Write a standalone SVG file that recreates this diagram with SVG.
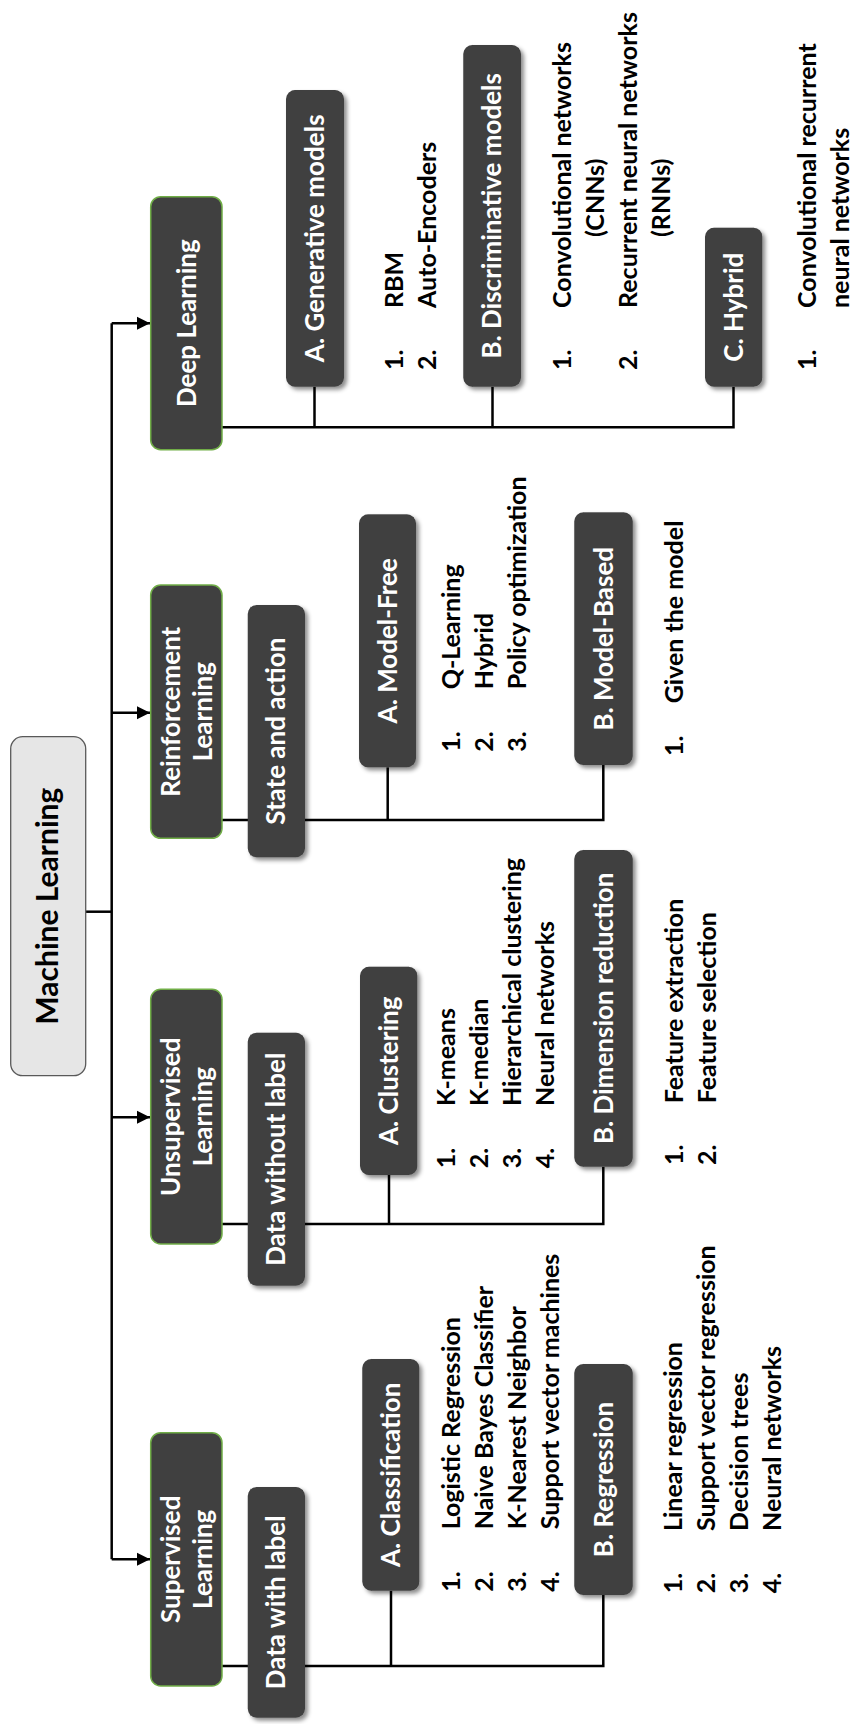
<svg xmlns="http://www.w3.org/2000/svg" width="851" height="1724" viewBox="0 0 851 1724">
<style>
.node{fill:#404040}
.top{fill:#404040;stroke:#70ad47;stroke-width:1.5}
.sh{filter:url(#shadow)}
.nt{font-family:Lato,"Liberation Sans",sans-serif;font-weight:bold;font-size:26px;fill:#ffffff;text-anchor:middle}
.lt{font-family:Lato,"Liberation Sans",sans-serif;font-weight:bold;font-size:25px;fill:#000000}
.ttl{font-family:Lato,"Liberation Sans",sans-serif;font-weight:bold;font-size:30px;fill:#000000;text-anchor:middle}
.ln{fill:none;stroke:#000000;stroke-width:2.5}
</style>
<defs>
<filter id="shadow" x="-20%" y="-30%" width="140%" height="160%">
<feDropShadow dx="-3" dy="3" stdDeviation="2" flood-color="#000000" flood-opacity="0.45"/>
</filter>
<marker id="arr" viewBox="0 0 14 14" refX="13" refY="7" markerWidth="14" markerHeight="14" markerUnits="userSpaceOnUse" orient="auto">
<path d="M0,0.5 L13,7 L0,13.5 Z" fill="#000000"/>
</marker>
</defs>
<rect width="851" height="1724" fill="#ffffff"/>
<g transform="translate(0,1724) rotate(-90)">
<g id="connectors">
<path class="ln" d="M812.3,85.7 V111.7"/>
<path class="ln" d="M164.7,111.7 H1400.7"/>
<path class="ln" d="M164.7,111.7 V150" marker-end="url(#arr)"/>
<path class="ln" d="M606.7,111.7 V150" marker-end="url(#arr)"/>
<path class="ln" d="M1011.3,111.7 V150" marker-end="url(#arr)"/>
<path class="ln" d="M1400.7,111.7 V150" marker-end="url(#arr)"/>
<path class="ln" d="M58,222 V603.3 H129 M58,391 H133.3"/>
<path class="ln" d="M500,222 V603.3 H557.3 M500,389 H549"/>
<path class="ln" d="M904,222 V603.3 H959 M904,387.7 H956.7"/>
<path class="ln" d="M1296.7,222 V733.5 H1337.3 M1296.7,314.5 H1337.3 M1296.7,492.5 H1337.3"/>
</g>
<g id="machine-learning">
<rect x="648.3" y="10.7" width="339" height="75" rx="12" fill="#e6e6e6" stroke="#595959" stroke-width="1.3"/>
<text class="ttl" x="817.8" y="58.3">Machine Learning</text>
</g>
<g id="supervised">
<rect class="top" x="38" y="150.7" width="253.3" height="71.3" rx="10"/>
<text class="nt" x="164.7" y="180">Supervised</text>
<text class="nt" x="164.7" y="211.7">Learning</text>
</g>
<g id="unsupervised">
<rect class="top" x="480" y="150.7" width="254.7" height="71.3" rx="10"/>
<text class="nt" x="607.3" y="180">Unsupervised</text>
<text class="nt" x="607.3" y="211.7">Learning</text>
</g>
<g id="reinforcement">
<rect class="top" x="885.7" y="150.7" width="253.3" height="71.3" rx="10"/>
<text class="nt" x="1012.3" y="180">Reinforcement</text>
<text class="nt" x="1012.3" y="211.7">Learning</text>
</g>
<g id="deep">
<rect class="top" x="1274.3" y="150.7" width="253" height="71.3" rx="10"/>
<text class="nt" x="1400.8" y="195.5">Deep Learning</text>
</g>
<g id="data-with-label">
<rect class="node sh" x="6.3" y="247.7" width="230.7" height="57.3" rx="9"/>
<text class="nt" x="121.7" y="285.3">Data with label</text>
</g>
<g id="data-without-label">
<rect class="node sh" x="438.3" y="247.7" width="253" height="57.3" rx="9"/>
<text class="nt" x="564.8" y="285.3">Data without label</text>
</g>
<g id="state-action">
<rect class="node sh" x="866.7" y="247.7" width="252.3" height="57.3" rx="9"/>
<text class="nt" x="992.8" y="285.3">State and action</text>
</g>
<g id="classification">
<rect class="node sh" x="133.3" y="362.3" width="231.7" height="57" rx="9"/>
<text class="nt" x="249.2" y="399.8">A. Classification</text>
</g>
<g id="regression">
<rect class="node sh" x="129" y="574.3" width="231" height="58.4" rx="9"/>
<text class="nt" x="244.5" y="612.5">B. Regression</text>
</g>
<g id="clustering">
<rect class="node sh" x="549" y="360" width="208.3" height="57.3" rx="9"/>
<text class="nt" x="653.2" y="397.7">A. Clustering</text>
</g>
<g id="dimension-reduction">
<rect class="node sh" x="557.3" y="574.3" width="316.7" height="58.4" rx="9"/>
<text class="nt" x="715.7" y="612.5">B. Dimension reduction</text>
</g>
<g id="model-free">
<rect class="node sh" x="956.7" y="359" width="253" height="57" rx="9"/>
<text class="nt" x="1083.2" y="396.5">A. Model-Free</text>
</g>
<g id="model-based">
<rect class="node sh" x="959" y="574.3" width="252.7" height="58.4" rx="9"/>
<text class="nt" x="1085.3" y="612.5">B. Model-Based</text>
</g>
<g id="generative">
<rect class="node sh" x="1337.3" y="286" width="296.7" height="58" rx="9"/>
<text class="nt" x="1485.7" y="324">A. Generative models</text>
</g>
<g id="discriminative">
<rect class="node sh" x="1337.3" y="463.3" width="341.7" height="57.7" rx="9"/>
<text class="nt" x="1508.2" y="501.2">B. Discriminative models</text>
</g>
<g id="hybrid">
<rect class="node sh" x="1337.3" y="705" width="159" height="57.3" rx="9"/>
<text class="nt" x="1416.8" y="742.7">C. Hybrid</text>
</g>
<g id="lists">
<text class="lt"><tspan x="132.3" y="460">1.</tspan><tspan x="132.3" y="493">2.</tspan><tspan x="132.3" y="526">3.</tspan><tspan x="132.3" y="559">4.</tspan></text>
<text class="lt"><tspan x="194.7" y="460">Logistic Regression</tspan><tspan x="194.7" y="493">Naive Bayes Classifier</tspan><tspan x="194.7" y="526">K-Nearest Neighbor</tspan><tspan x="194.7" y="559">Support vector machines</tspan></text>
<text class="lt"><tspan x="130.7" y="681.7">1.</tspan><tspan x="130.7" y="714.7">2.</tspan><tspan x="130.7" y="747.7">3.</tspan><tspan x="130.7" y="780.7">4.</tspan></text>
<text class="lt"><tspan x="193" y="681.7">Linear regression</tspan><tspan x="193" y="714.7">Support vector regression</tspan><tspan x="193" y="747.7">Decision trees</tspan><tspan x="193" y="780.7">Neural networks</tspan></text>
<text class="lt"><tspan x="555.7" y="455.3">1.</tspan><tspan x="555.7" y="488.3">2.</tspan><tspan x="555.7" y="521.3">3.</tspan><tspan x="555.7" y="554.3">4.</tspan></text>
<text class="lt"><tspan x="618" y="455.3">K-means</tspan><tspan x="618" y="488.3">K-median</tspan><tspan x="618" y="521.3">Hierarchical clustering</tspan><tspan x="618" y="554.3">Neural networks</tspan></text>
<text class="lt"><tspan x="559" y="682.7">1.</tspan><tspan x="559" y="715.7">2.</tspan></text>
<text class="lt"><tspan x="620.7" y="682.7">Feature extraction</tspan><tspan x="620.7" y="715.7">Feature selection</tspan></text>
<text class="lt"><tspan x="972.3" y="460">1.</tspan><tspan x="972.3" y="493.3">2.</tspan><tspan x="972.3" y="526.3">3.</tspan></text>
<text class="lt"><tspan x="1034.7" y="460">Q-Learning</tspan><tspan x="1034.7" y="493.3">Hybrid</tspan><tspan x="1034.7" y="526.3">Policy optimization</tspan></text>
<text class="lt"><tspan x="968" y="682.7">1.</tspan></text>
<text class="lt"><tspan x="1020.7" y="682.7">Given the model</tspan></text>
<text class="lt"><tspan x="1354" y="403.3">1.</tspan><tspan x="1354" y="436.3">2.</tspan></text>
<text class="lt"><tspan x="1416" y="403.3">RBM</tspan><tspan x="1416" y="436.3">Auto-Encoders</tspan></text>
<text class="lt"><tspan x="1354" y="570.7">1.</tspan><tspan x="1354" y="637">2.</tspan></text>
<text class="lt"><tspan x="1416" y="570.7">Convolutional networks</tspan><tspan x="1487" y="604">(CNNs)</tspan><tspan x="1416" y="637">Recurrent neural networks</tspan><tspan x="1487" y="670">(RNNs)</tspan></text>
<text class="lt"><tspan x="1354" y="816">1.</tspan></text>
<text class="lt"><tspan x="1416" y="816">Convolutional recurrent</tspan><tspan x="1416" y="849">neural networks</tspan></text>
</g>
</g>
</svg>
